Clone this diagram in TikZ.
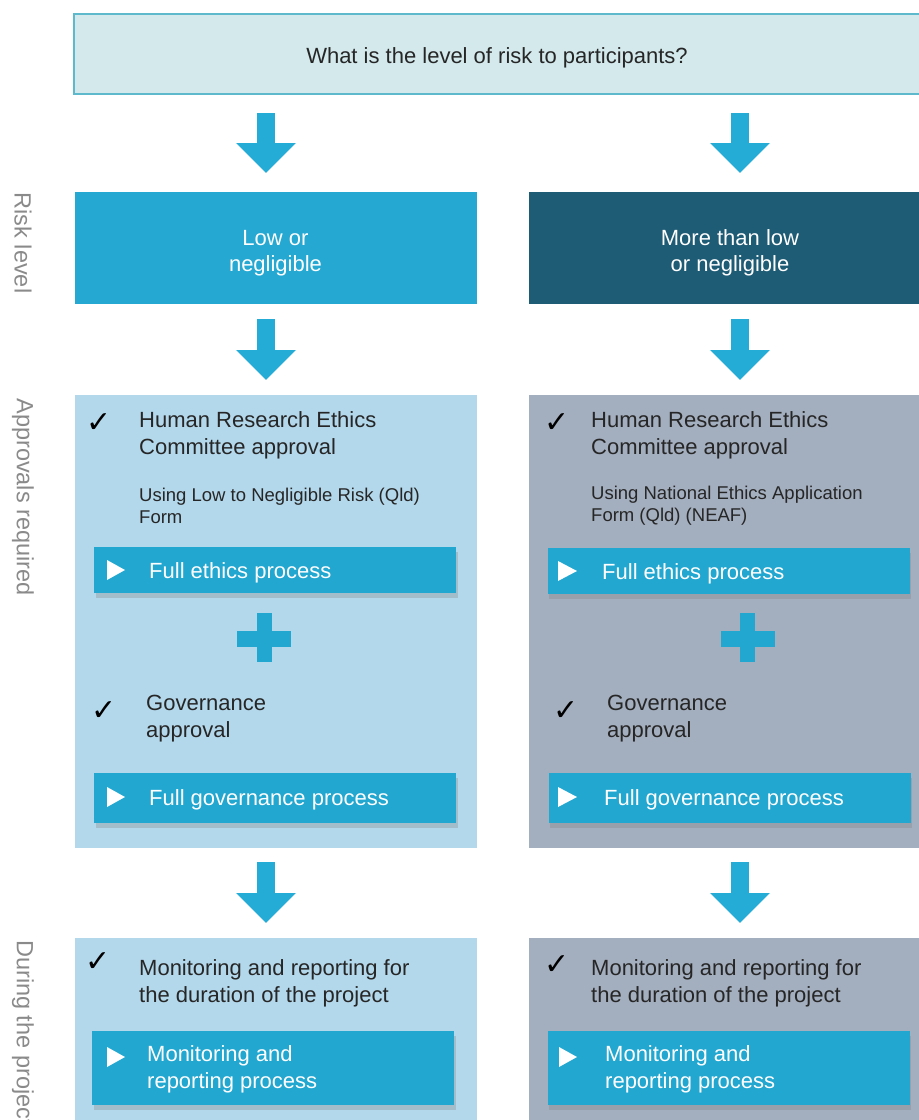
\documentclass[tikz,border=0pt]{standalone}
\usepackage{fontspec}
\setmainfont{Liberation Sans}
\newfontfamily\symfont{DejaVu Sans}
\usetikzlibrary{arrows.meta, shadows}

\definecolor{topfill}{HTML}{D3E9EC}
\definecolor{topdraw}{HTML}{5DB9CB}
\definecolor{lowblue}{HTML}{25A8D2}
\definecolor{darkteal}{HTML}{1E5B75}
\definecolor{paleblue}{HTML}{B3D8EB}
\definecolor{slate}{HTML}{A3AEBE}
\definecolor{barblue}{HTML}{22A7D1}
\definecolor{arrowblue}{HTML}{24ABD6}
\definecolor{sidegray}{HTML}{8A8A8A}
\definecolor{textdark}{HTML}{262626}

\newcommand{\tickmark}{{\symfont\fontsize{30}{30}\selectfont ✓}}

\begin{document}
\begin{tikzpicture}[x=1pt, y=-1pt,
    box/.style={rectangle, inner sep=0pt, outer sep=0pt, minimum width=402pt},
    boxtxt/.style={inner sep=0pt, align=center, text=white, font=\fontsize{22}{26.5}\selectfont},
    bar/.style={rectangle, inner sep=0pt, outer sep=0pt, fill=barblue, minimum width=362pt,
        drop shadow={shadow xshift=1.5pt, shadow yshift=-5pt, opacity=0.3}},
    flow/.style={line width=18pt, draw=arrowblue, -{Triangle[width=58pt, length=30pt]},
        shorten <=15pt, shorten >=15pt},
    txt/.style={anchor=west, align=left, inner sep=0pt, yshift=-2.5pt, text=textdark,
        font=\fontsize{22}{26.5}\selectfont},
    small/.style={txt, yshift=1pt, font=\fontsize{18.5}{22}\selectfont},
    bartxt/.style={txt, text=white},
    side/.style={rotate=-90, inner sep=0pt, text=sidegray, font=\fontsize{23.5}{28}\selectfont},
    tick/.style={inner sep=0pt, text=black}]

    \useasboundingbox (0,0) rectangle (919,1120);
    \clip (0,0) rectangle (919,1120);

    % Define boxes
    \node[box, fill=topfill, draw=topdraw, line width=2pt, minimum width=855pt,
        minimum height=80pt] (question) at (501.5,54) {};
    \node[box, fill=lowblue, minimum height=112pt] (low) at (275.5,248) {};
    \node[box, fill=darkteal, minimum height=112pt] (high) at (730,248) {};
    \node[box, fill=paleblue, minimum height=453pt] (apprL) at (275.5,621.5) {};
    \node[box, fill=slate, minimum height=453pt] (apprR) at (730,621.5) {};
    \node[box, fill=paleblue, minimum height=200pt] (duringL) at (275.5,1038) {};
    \node[box, fill=slate, minimum height=200pt] (duringR) at (730,1038) {};

    % Box texts
    \node[boxtxt, text=textdark] at (497,58) {What is the level of risk to participants?};
    \node[boxtxt] at (275.5,253) {Low or\\negligible};
    \node[boxtxt] at (730,253) {More than low\\or negligible};

    % Side labels
    \node[side] (risk) at (23,243) {Risk level};
    \node[side] (approvals) at (23,497) {Approvals required};
    \node[side, anchor=west] (during) at (23,940) {During the project};

    % Draw arrows
    \coordinate (colL) at (266,0);
    \coordinate (colR) at (740,0);
    \draw[flow, shorten <=19pt, shorten >=19pt] (question.south -| colL) -- (low.north -| colL);
    \draw[flow, shorten <=19pt, shorten >=19pt] (question.south -| colR) -- (high.north -| colR);
    \draw[flow] (low.south -| colL) -- (apprL.north -| colL);
    \draw[flow] (high.south -| colR) -- (apprR.north -| colR);
    \draw[flow, shorten <=14pt] (apprL.south -| colL) -- (duringL.north -| colL);
    \draw[flow, shorten <=14pt] (apprR.south -| colR) -- (duringR.north -| colR);

    % Approvals, left
    \node[tick] at (99,423) {\tickmark};
    \node[txt] at (139,433) {Human Research Ethics\\Committee approval};
    \node[small] at (139,504) {Using Low to Negligible Risk (Qld)\\Form};
    \node[bar, minimum height=46pt] (ethL) at (275,570) {};
    \fill[white] (107,560) -- (125,570) -- (107,580) -- cycle;
    \node[bartxt] at (149,570) {Full ethics process};
    \fill[barblue] (237,631) rectangle (291,647);
    \fill[barblue] (257,613) rectangle (272,662);
    \node[tick] at (104,711) {\tickmark};
    \node[txt] at (146,716) {Governance\\approval};
    \node[bar, minimum height=50pt] (govL) at (275,798) {};
    \fill[white] (107,787) -- (125,797) -- (107,807) -- cycle;
    \node[bartxt] at (149,797) {Full governance process};

    % Approvals, right
    \node[tick] at (557,423) {\tickmark};
    \node[txt] at (591,433) {Human Research Ethics\\Committee approval};
    \node[small] at (591,504) {Using National Ethics Application\\Form (Qld) (NEAF)};
    \node[bar, minimum height=46pt] (ethR) at (728.5,571) {};
    \fill[white] (558,561) -- (577,571) -- (558,581) -- cycle;
    \node[bartxt] at (602,571) {Full ethics process};
    \fill[barblue] (721,631) rectangle (775,647);
    \fill[barblue] (740,613) rectangle (755,662);
    \node[tick] at (566,711) {\tickmark};
    \node[txt] at (607,716) {Governance\\approval};
    \node[bar, minimum height=50pt] (govR) at (729.5,798) {};
    \fill[white] (558,787) -- (577,797) -- (558,807) -- cycle;
    \node[bartxt] at (604,797) {Full governance process};

    % During the project
    \node[tick] at (98,962) {\tickmark};
    \node[txt] at (139,981) {Monitoring and reporting for\\the duration of the project};
    \node[bar, minimum height=74pt] (monL) at (273,1068) {};
    \fill[white] (107,1047) -- (125,1057) -- (107,1067) -- cycle;
    \node[bartxt] at (147,1067) {Monitoring and\\reporting process};
    \node[tick] at (557,965) {\tickmark};
    \node[txt] at (591,981) {Monitoring and reporting for\\the duration of the project};
    \node[bar, minimum height=74pt] (monR) at (728.5,1068) {};
    \fill[white] (559,1047) -- (577,1057) -- (559,1067) -- cycle;
    \node[bartxt] at (605,1067) {Monitoring and\\reporting process};
\end{tikzpicture}
\end{document}
